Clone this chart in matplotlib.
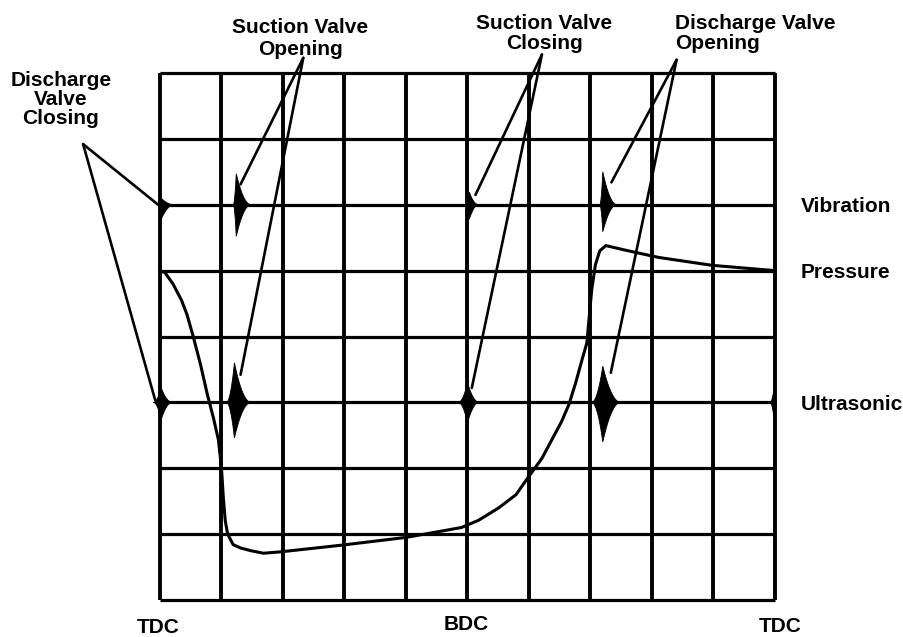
"""
Valve event timing for a reciprocating compressor: vibration, cylinder
pressure and ultrasonic traces over one crank revolution (TDC - BDC - TDC).
"""

import matplotlib
matplotlib.use('Agg')
import matplotlib.pyplot as plt
import numpy as np

plt.rcParams['font.family'] = ['Liberation Sans', 'DejaVu Sans']

# grid divisions (crank angle across, trace level up)
n_cols = 10
n_rows = 8

# trace levels on the grid
vibration_level = 6
pressure_level = 5
ultrasonic_level = 3

# cylinder pressure trace
pressure_x = [0.0, 0.08, 0.21, 0.35, 0.44, 0.54, 0.66, 0.77, 0.87, 0.95,
              1.0, 1.03, 1.06, 1.10, 1.19, 1.31, 1.47, 1.68, 1.95, 2.93,
              4.0, 4.9, 5.18, 5.51, 5.79, 6.0, 6.21, 6.37, 6.53, 6.65,
              6.76, 6.86, 6.94, 7.02, 7.08, 7.15, 7.25, 7.57, 8.11, 8.98,
              10.0]
pressure_y = [5.0, 4.97, 4.8, 4.55, 4.33, 4.0, 3.57, 3.12, 2.76, 2.43,
              2.0, 1.55, 1.21, 1.0, 0.84, 0.79, 0.75, 0.71, 0.73, 0.83,
              0.95, 1.1, 1.21, 1.40, 1.60, 1.88, 2.15, 2.43, 2.71, 2.97,
              3.30, 3.64, 3.9, 4.71, 5.09, 5.3, 5.38, 5.31, 5.2, 5.08,
              5.0]

# valve bursts: start, peak, end (grid columns), amplitude up and down
vib_start = [-0.03, 1.19, 4.97, 7.15]
vib_peak = [0.02, 1.24, 5.03, 7.2]
vib_end = [0.23, 1.48, 5.18, 7.43]
vib_up = [0.10, 0.47, 0.19, 0.50]
vib_down = [0.22, 0.48, 0.22, 0.41]

us_start = [-0.11, 1.08, 4.85, 7.02, 9.92]
us_peak = [0.02, 1.21, 5.0, 7.2, 9.98]
us_end = [0.2, 1.48, 5.19, 7.49, 10.03]
us_up = [0.22, 0.6, 0.3, 0.55, 0.18]
us_down = [0.26, 0.54, 0.31, 0.6, 0.21]

# valve event callouts
event_names = ['Discharge\nValve\nClosing', 'Suction Valve\nOpening',
               'Suction Valve\nClosing', 'Discharge Valve\nOpening']
event_origin = [(-1.25, 6.92), (2.33, 8.23), (6.21, 8.28), (8.40, 8.20)]
event_vib_tip = [(-0.03, 6.0), (1.31, 6.31), (5.13, 6.15), (7.34, 6.34)]
event_us_tip = [(-0.08, 3.04), (1.31, 3.42), (5.07, 3.22), (7.33, 3.45)]

trace_names = ['Vibration', 'Pressure', 'Ultrasonic']
crank_labels = ['TDC', 'BDC', 'TDC']
crank_pos = [-0.03, 4.98, 10.08]


def burst(ax, level, x0, xp, x1, up, down):
    """Filled envelope of a decaying burst on a trace."""
    t = np.linspace(0, 1, 12)
    env = (1 - t) ** 2
    xl = xp - (xp - x0) * t[::-1]
    el = env[::-1]
    xr = xp + (x1 - xp) * t
    xs = np.concatenate([xl, xr, xr[::-1], xl[::-1]])
    ys = np.concatenate([level + up * el, level + up * env,
                         level - down * env[::-1], level - down * el[::-1]])
    ax.fill(xs, ys, color='black', lw=0.6, clip_on=False, zorder=4)


fig = plt.figure(figsize=(9.04, 6.37), dpi=100)
ax = fig.add_axes([160 / 904, 37 / 637, 615 / 904, 527 / 637])
ax.set_xlim(0, n_cols)
ax.set_ylim(0, n_rows)
ax.axis('off')

# scope graticule
ax.vlines(np.arange(n_cols + 1), 0, n_rows, color='black', lw=2.8,
          clip_on=False, zorder=1)
ax.hlines(np.arange(n_rows + 1), 0, n_cols, color='black', lw=2.3,
          clip_on=False, zorder=1)

ax.plot(pressure_x, pressure_y, color='black', lw=2.2,
        solid_joinstyle='round', clip_on=False, zorder=3)

for i in range(len(vib_peak)):
    burst(ax, vibration_level, vib_start[i], vib_peak[i], vib_end[i],
          vib_up[i], vib_down[i])
for i in range(len(us_peak)):
    burst(ax, ultrasonic_level, us_start[i], us_peak[i], us_end[i],
          us_up[i], us_down[i])

# callout lines
for o, v, u in zip(event_origin, event_vib_tip, event_us_tip):
    for tip in (v, u):
        ax.plot([o[0], tip[0]], [o[1], tip[1]], color='black', lw=1.9,
                solid_capstyle='round', clip_on=False, zorder=5)

# multi-line labels are anchored on the baseline of their last line
font = dict(fontsize=15, fontweight='bold', color='black')
ax.text(-1.61, 7.23, event_names[0], ha='center', va='baseline',
        multialignment='center', linespacing=1.0, **font)
ax.text(2.28, 8.28, event_names[1], ha='center', va='baseline',
        multialignment='center', linespacing=1.15, **font)
ax.text(6.25, 8.36, event_names[2], ha='center', va='baseline',
        multialignment='center', linespacing=1.07, **font)
ax.text(8.38, 8.36, event_names[3], ha='left', va='baseline',
        multialignment='left', linespacing=1.07, **font)

for name, lvl in zip(trace_names, [5.89, 4.89, 2.89]):
    ax.text(10.42, lvl, name, ha='left', va='baseline', **font)

for lab, x, y in zip(crank_labels, crank_pos, [-0.5, -0.46, -0.48]):
    ax.text(x, y, lab, ha='center', va='baseline', **font)

fig.savefig('out.png', dpi=100, facecolor='white')
